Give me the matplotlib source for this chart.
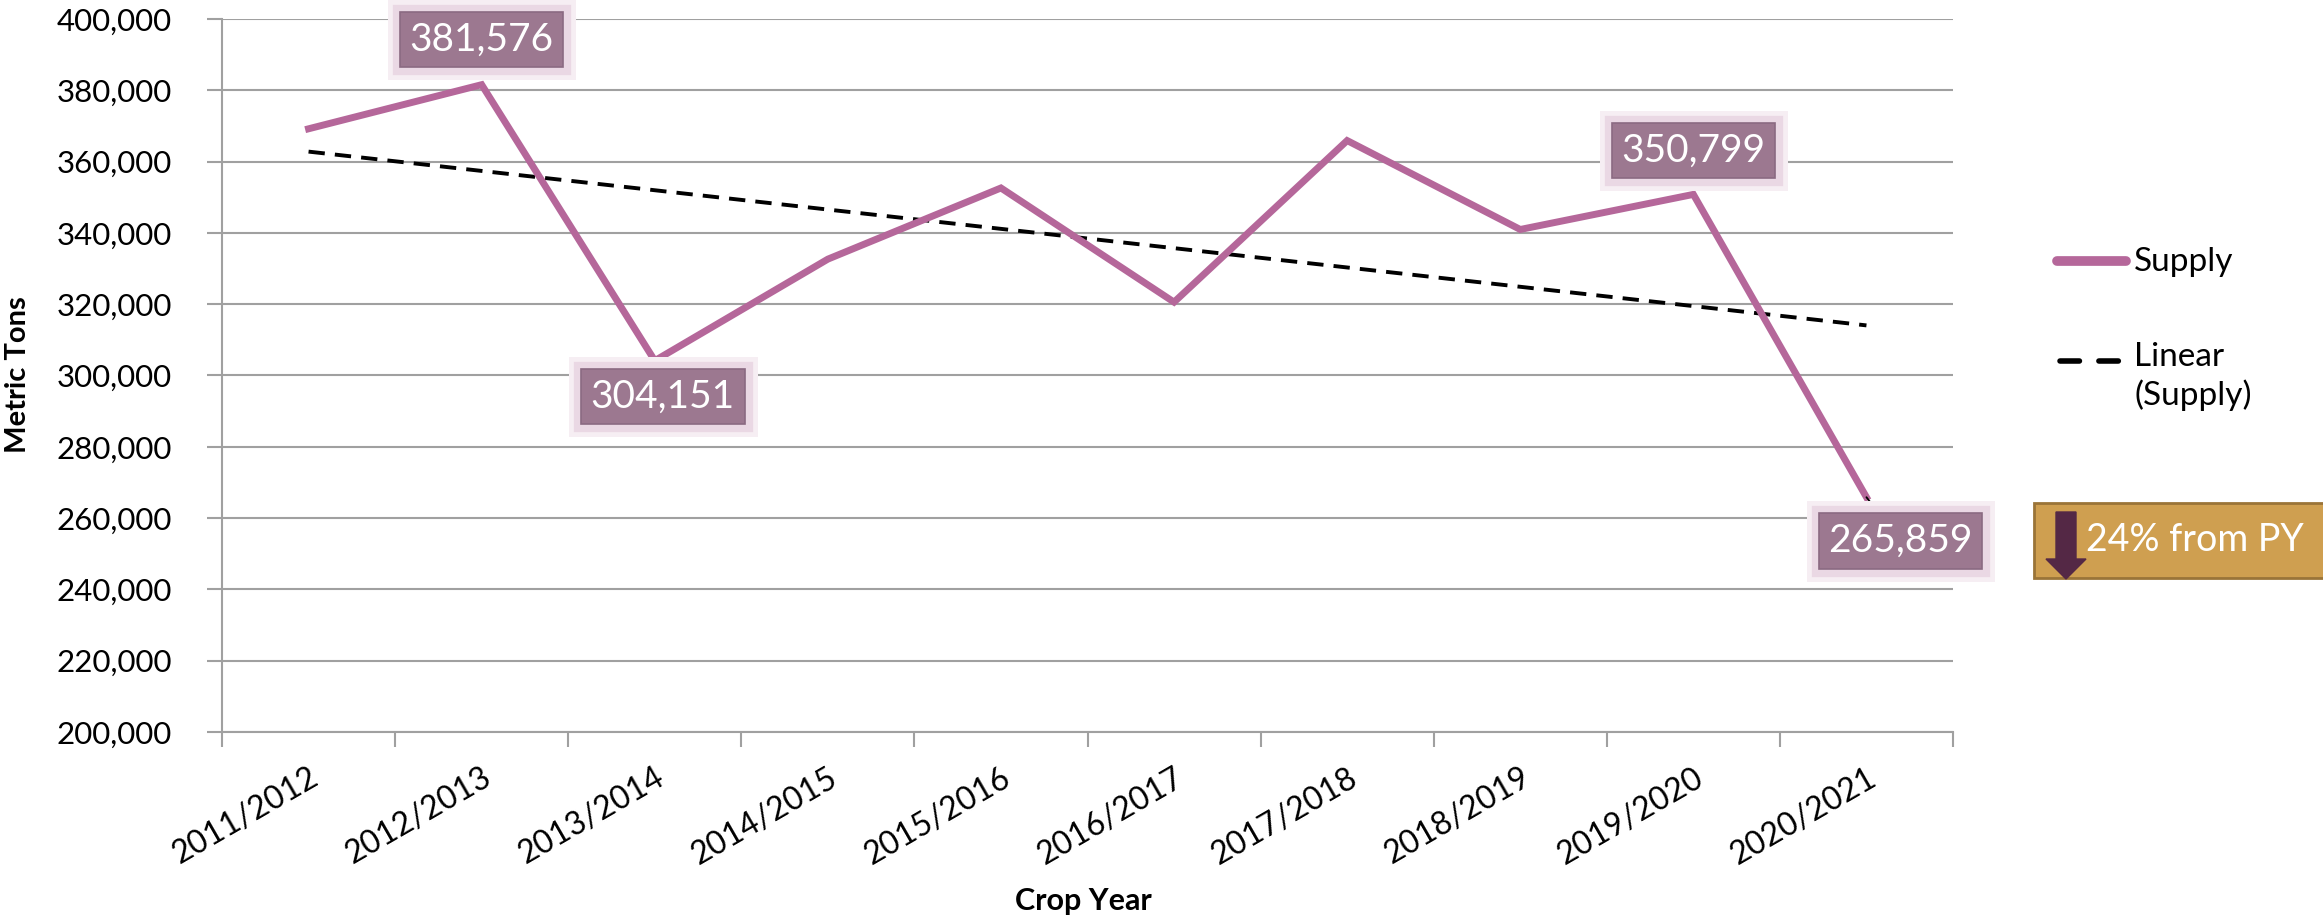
import matplotlib
matplotlib.use('Agg')
import matplotlib.pyplot as plt
import matplotlib.patheffects as pe
from matplotlib.lines import Line2D
from matplotlib.patches import Rectangle, Polygon
from matplotlib.ticker import FuncFormatter
import numpy as np

years = ['2011/2012', '2012/2013', '2013/2014', '2014/2015', '2015/2016',
         '2016/2017', '2017/2018', '2018/2019', '2019/2020', '2020/2021']
supply = [369200, 381576, 304151, 332640, 352600,
          320580, 365900, 340960, 350799, 265859]
# labelled points: index -> (dx, dy) offset in pixels
labelled = {1: (0, 45), 2: (8, -36), 8: (0, 44), 9: (34, -44)}
change_text = '24% from PY'

W, H = 2323, 923
plt.rcParams['font.family'] = ['Lato', 'DejaVu Sans']

fig = plt.figure(figsize=(W / 100, H / 100), dpi=100)
ax = fig.add_axes([222 / W, 1 - 732 / H, (1953 - 222) / W, (732 - 19) / H])


def fx(px):
    return px / W


def fy(py):
    return 1 - py / H


x = np.arange(len(years))
ax.plot(x, supply, color='#b5679a', lw=5, solid_joinstyle='miter', zorder=3)

# linear trend
k, b = np.polyfit(x, supply, 1)
ax.plot(x, k * x + b, color='black', lw=2.8, ls=(0, (4.2, 2.6)), zorder=2)

ax.set_xlim(-0.5, len(years) - 0.5)
ax.set_ylim(200000, 400000)
ax.set_yticks(np.arange(200000, 400001, 20000))
ax.yaxis.set_major_formatter(FuncFormatter(lambda v, p: '{:,.0f}'.format(v)))
ax.set_xticks(np.arange(-0.5, len(years), 1.0))
ax.set_xticklabels([])
ax.set_xticks(x, minor=True)
ax.set_xticklabels(years, minor=True, rotation=30, ha='right',
                   rotation_mode='anchor', fontsize=23)
ax.tick_params(axis='x', which='minor', length=0, pad=22)
ax.tick_params(axis='x', which='major', length=11, width=1.5, color='#a0a0a0',
               direction='out')
ax.tick_params(axis='y', length=11, width=1.5, color='#a0a0a0', pad=25,
               labelsize=22.5)

ax.grid(axis='y', color='#a0a0a0', lw=1.5)
ax.set_axisbelow(True)
for s in ['top', 'right']:
    ax.spines[s].set_visible(False)
for s in ['left', 'bottom']:
    ax.spines[s].set_color('#a0a0a0')
    ax.spines[s].set_linewidth(1.5)

# data labels
glow = [pe.Stroke(linewidth=18, foreground='#f6eef3'),
        pe.Stroke(linewidth=11, foreground='#ead8e4'),
        pe.Normal()]
for i, (dx, dy) in labelled.items():
    arrow = None
    if i == len(years) - 1:
        arrow = dict(arrowstyle='-', color='black', lw=1.3, shrinkA=0, shrinkB=0)
    ax.annotate('{:,}'.format(supply[i]), (x[i], supply[i]),
                xytext=(dx, dy), textcoords='offset pixels',
                ha='center', va='center', color='white', fontsize=28,
                arrowprops=arrow, zorder=5,
                bbox=dict(boxstyle='square,pad=0.25', fc='#9c7890', ec='#8b6a82',
                          lw=1.2, path_effects=glow))

# axis titles
fig.text(fx(18), fy(375), 'Metric Tons', rotation=90, ha='center', va='center',
         fontsize=21, fontweight='bold')
fig.text(fx(1083), fy(901), 'Crop Year', ha='center', va='center',
         fontsize=22, fontweight='bold')

# legend
fig.add_artist(Line2D([fx(2057), fx(2126)], [fy(261), fy(261)], color='#b5679a',
                      lw=7, solid_capstyle='round', transform=fig.transFigure))
fig.add_artist(Line2D([fx(2060), fx(2126)], [fy(361), fy(361)], color='black',
                      lw=4, ls=(0, (3.5, 3.5)), dash_capstyle='round',
                      transform=fig.transFigure))
fig.text(fx(2134), fy(262), 'Supply', ha='left', va='center', fontsize=24)
fig.text(fx(2134), fy(342), 'Linear\n(Supply)', ha='left', va='top',
         fontsize=24, linespacing=1.3)

# change box
fig.add_artist(Rectangle((fx(2034), fy(578)), fx(300), (578 - 503) / H,
                         fc='#cf9f50', ec='#9a7438', lw=2,
                         transform=fig.transFigure))
arrow_pts = [(2056, 512), (2076, 512), (2076, 559), (2086, 559), (2066, 579),
             (2046, 559), (2056, 559)]
fig.add_artist(Polygon([(fx(a), fy(c)) for a, c in arrow_pts], closed=True,
                       fc='#542845', ec='#542845', transform=fig.transFigure))
fig.text(fx(2086), fy(540), change_text, ha='left', va='center',
         color='white', fontsize=27)

fig.savefig('out.png', dpi=100)
